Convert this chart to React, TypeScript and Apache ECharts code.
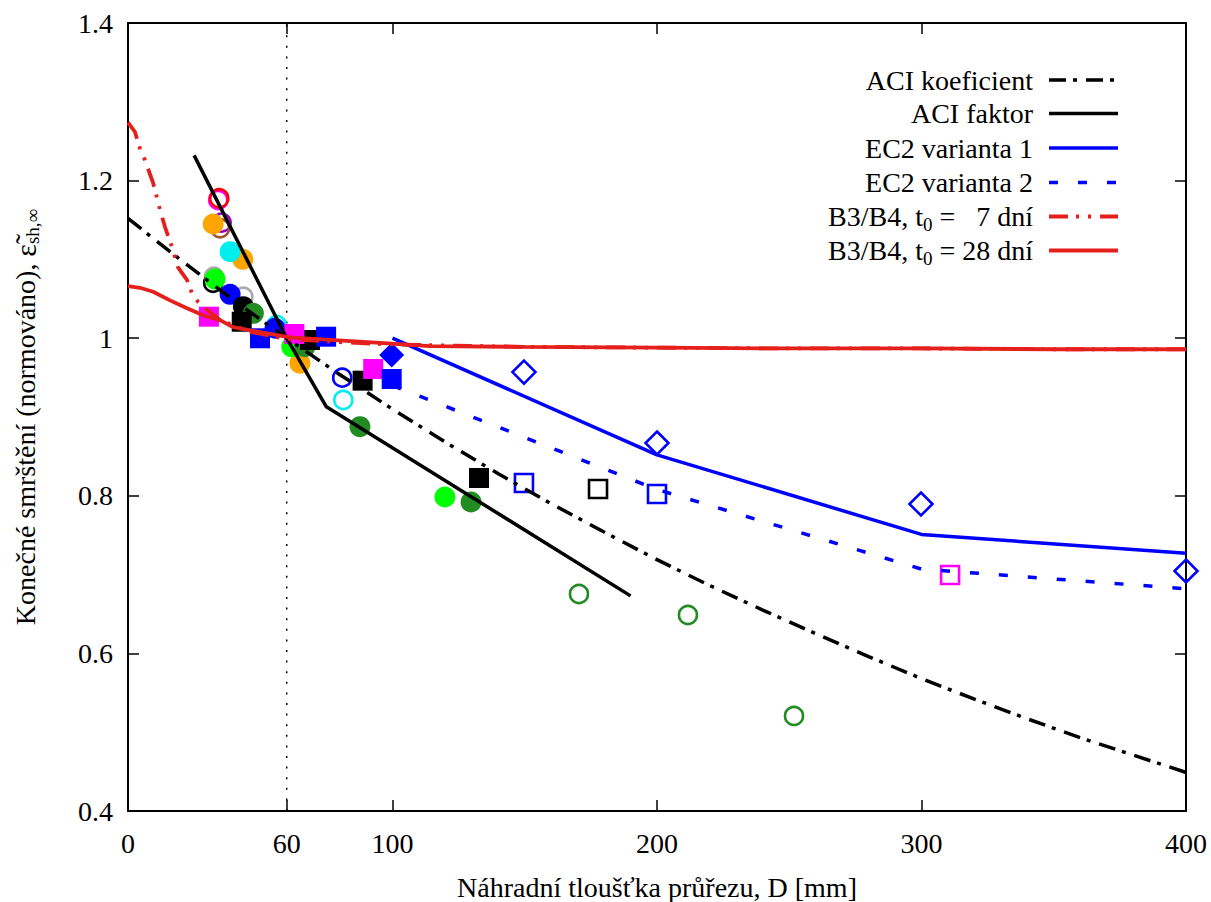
import React, { useEffect, useRef } from "react";
import * as echarts from "echarts";

// ---------- data ----------
const xTickValues = [0, 60, 100, 200, 300, 400];
const referenceD = 60;

const aciKoefD = [0, 20, 40, 60, 80, 100, 120, 140, 160, 180, 200, 220, 240, 260, 280, 300, 320, 340, 360, 380, 400];
const aciKoefVal = [1.152, 1.099, 1.048, 1.0, 0.954, 0.91, 0.868, 0.828, 0.79, 0.754, 0.719, 0.686, 0.655, 0.625, 0.596, 0.568, 0.542, 0.517, 0.493, 0.471, 0.449];

const aciFaktorD = [25, 60, 75, 190];
const aciFaktorVal = [1.232, 1.0, 0.913, 0.673];

const ec2v1D = [100, 200, 300, 400];
const ec2v1Val = [1.0, 0.852, 0.751, 0.727];

const ec2v2D = [100, 200, 300, 400];
const ec2v2Val = [0.94, 0.808, 0.707, 0.682];

const b3t7D = [0, 2.6, 4.5, 6.4, 9.5, 12.1, 14, 16.6, 18.9, 22.3, 24.2, 26.5, 29.9, 34.8, 46.1, 60, 80, 100, 150, 200, 250, 300, 350, 400];
const b3t7Val = [1.274, 1.262, 1.241, 1.226, 1.197, 1.163, 1.141, 1.116, 1.09, 1.074, 1.057, 1.046, 1.036, 1.023, 1.008, 0.999, 0.995, 0.992, 0.989, 0.988, 0.987, 0.987, 0.986, 0.986];

const b3t28D = [0, 4.5, 9.5, 15.9, 22.3, 28.4, 34.8, 39.7, 51, 61.2, 76.4, 95.3, 114, 150, 200, 250, 300, 350, 400];
const b3t28Val = [1.066, 1.064, 1.059, 1.048, 1.038, 1.029, 1.023, 1.014, 1.007, 1.001, 0.998, 0.994, 0.99, 0.989, 0.988, 0.987, 0.987, 0.986, 0.986];

// measurements [D, normalized shrinkage]
const hollowGreyCircle = [[32.5, 1.078], [43.6, 1.0527]];
const hollowBlackCircle = [[32.2, 1.0704]];
const hollowCyanCircle = [[56.2, 1.0168], [81.4, 0.9216]];
const hollowPurpleCircle = [[35.4, 1.1466]];
const hollowBrownCircle = [[34.8, 1.1395]];
const hollowMagentaCircle = [[34.1, 1.1754]];
const hollowRedCircle = [[34.5, 1.1776]];
const hollowBlueCircle = [[81.0, 0.9499]];
const hollowGreenCircle = [[170.5, 0.6754], [211.7, 0.6487], [251.8, 0.5206]];
const filledOrangeCircle = [[32.2, 1.1449], [43.4, 1.1001], [65.0, 0.9682]];
const filledCyanCircle = [[38.6, 1.1098]];
const filledLimeCircle = [[32.9, 1.075], [61.9, 0.989], [119.8, 0.7985]];
const filledBlueCircle = [[38.6, 1.0557], [55.6, 1.0126]];
const filledBlackCircle = [[43.6, 1.04]];
const filledGreenCircle = [[47.4, 1.0316], [66.9, 0.9892], [87.7, 0.8877], [129.7, 0.7921]];
const filledBlackSquare = [[43.0, 1.0209], [68.8, 0.9977], [88.7, 0.9461], [132.7, 0.8226]];
const filledMagentaSquare = [[30.6, 1.0273], [62.9, 1.0053], [92.7, 0.9609]];
const filledBlueSquare = [[49.9, 0.9999], [74.9, 1.0019], [99.7, 0.9482]];
const hollowBlueSquare = [[149.7, 0.8162], [200, 0.8023]];
const hollowBlackSquare = [[177.7, 0.8086]];
const hollowMagentaSquare = [[310.8, 0.6995]];
const filledBlueDiamond = [[99.7, 0.9787]];
const hollowBlueDiamond = [[149.7, 0.957], [200, 0.867], [299.8, 0.7896], [400, 0.7046]];

// ---------- styles ----------
const FONT = "Liberation Serif";
const FS = 28;
const RED = "#e5201c";
const BLUE = "#0000ff";
const BLACK = "#000000";
const GREEN = "#228b22";

const zip = (xs: number[], ys: number[]) => xs.map((x, i) => [x, ys[i]]);

function scatter(name: string, data: number[][], symbol: string, color: string, filled: boolean, size: number) {
  return {
    name,
    type: "scatter",
    data,
    symbol,
    symbolSize: size,
    z: 2,
    itemStyle: filled
      ? { color, borderWidth: 0, opacity: 1 }
      : { color: "rgba(0,0,0,0)", borderColor: color, borderWidth: 2.6, opacity: 1 },
    emphasis: { disabled: true },
  };
}

function lineSeries(name: string, data: number[][], color: string, width: number, dash: any) {
  return {
    name,
    type: "line",
    data,
    showSymbol: false,
    symbol: "none",
    z: 3,
    lineStyle: { color, width, type: dash, cap: "butt" },
    emphasis: { disabled: true },
  };
}

const legendRows = [
  { text: "ACI koeficient", color: BLACK, dash: [17, 7, 4, 9], width: 3.5 },
  { text: "ACI faktor", color: BLACK, dash: null, width: 3.5 },
  { text: "EC2 varianta 1", color: BLUE, dash: null, width: 3.5 },
  { text: "EC2 varianta 2", color: BLUE, dash: [9, 20], width: 3.5 },
  { text: "{a|B3/B4, t}{s|0}{a| =   7 dní}", color: RED, dash: [19, 8, 3, 9, 3, 9], width: 3.8 },
  { text: "{a|B3/B4, t}{s|0}{a| = 28 dní}", color: RED, dash: null, width: 3.8 },
];
const legendY = [80, 113.5, 148, 182.5, 216.5, 250.5];

export default function App() {
  const ref = useRef<HTMLDivElement>(null);
  useEffect(() => {
    const chart = echarts.init(ref.current!, null, { renderer: "svg" });
    const axisLineStyle = { color: BLACK, width: 2 };
    const tickStyle = { color: BLACK, width: 1.5 };
    const labelStyle = { fontSize: FS, fontFamily: FONT, color: BLACK };

    const graphic: any[] = [];
    legendRows.forEach((r, i) => {
      graphic.push({
        type: "text",
        x: 1033,
        y: legendY[i],
        z: 100,
        style: {
          text: r.text,
          fill: BLACK,
          fontSize: FS,
          fontFamily: FONT,
          align: "right",
          verticalAlign: "middle",
          textAlign: "right",
          textVerticalAlign: "middle",
          rich: {
            a: { fontSize: FS, fontFamily: FONT, fill: BLACK, color: BLACK },
            s: { fontSize: 19, fontFamily: FONT, fill: BLACK, color: BLACK, padding: [15, 0, 0, 0] },
          },
        },
      });
      graphic.push({
        type: "line",
        z: 100,
        shape: { x1: 1049, y1: legendY[i], x2: 1118, y2: legendY[i] },
        style: { stroke: r.color, lineWidth: r.width, lineDash: r.dash || undefined },
      });
    });

    chart.setOption({
      animation: false,
      backgroundColor: "#ffffff",
      grid: { left: 128, right: 25, top: 23, bottom: 91, containLabel: false, outerBoundsMode: "none" },
      xAxis: [
        {
          type: "value",
          position: "bottom",
          min: 0,
          max: 400,
          axisLine: { show: true, onZero: false, lineStyle: axisLineStyle },
          axisTick: { show: true, inside: true, length: 11, customValues: xTickValues, lineStyle: tickStyle },
          axisLabel: { ...labelStyle, margin: 18, customValues: xTickValues },
          splitLine: { show: false },
          name: "Náhradní tloušťka průřezu, D [mm]",
          nameLocation: "middle",
          nameGap: 62,
          nameTextStyle: { fontSize: FS, fontFamily: FONT, color: BLACK },
        },
        {
          type: "value",
          position: "top",
          min: 0,
          max: 400,
          axisLine: { show: true, onZero: false, lineStyle: axisLineStyle },
          axisTick: { show: true, inside: true, length: 11, customValues: xTickValues, lineStyle: tickStyle },
          axisLabel: { show: false },
          splitLine: { show: false },
        },
      ],
      yAxis: [
        {
          type: "value",
          position: "left",
          min: 0.4,
          max: 1.4,
          interval: 0.2,
          axisLine: { show: true, onZero: false, lineStyle: axisLineStyle },
          axisTick: { show: true, inside: true, length: 11, lineStyle: tickStyle },
          axisLabel: { ...labelStyle, margin: 15 },
          splitLine: { show: false },
          name: "Konečné smrštění (normováno), {e|ε\u0303}{s|sh,∞}",
          nameLocation: "middle",
          nameRotate: 90,
          nameGap: 86,
          nameTextStyle: {
            fontSize: FS,
            fontFamily: FONT,
            color: BLACK,
            rich: {
              e: { fontSize: 30, fontFamily: FONT, color: BLACK },
              s: { fontSize: 19, fontFamily: FONT, color: BLACK, padding: [15, 0, 0, 0] },
            },
          },
        },
        {
          type: "value",
          position: "right",
          min: 0.4,
          max: 1.4,
          interval: 0.2,
          axisLine: { show: true, onZero: false, lineStyle: axisLineStyle },
          axisTick: { show: true, inside: true, length: 11, lineStyle: tickStyle },
          axisLabel: { show: false },
          splitLine: { show: false },
        },
      ],
      series: [
        {
          name: "D = 60 mm",
          type: "line",
          data: [[referenceD, 0.4], [referenceD, 1.4]],
          symbol: "none",
          z: 1,
          lineStyle: { color: BLACK, width: 1.5, type: [2, 8.6] },
          emphasis: { disabled: true },
        },
        scatter("m1", hollowGreyCircle, "circle", "#a9a9a9", false, 18),
        scatter("m2", hollowBlackCircle, "circle", BLACK, false, 18),
        scatter("m3", hollowCyanCircle, "circle", "#00eeee", false, 18),
        scatter("m4", hollowPurpleCircle, "circle", "#9400d3", false, 18),
        scatter("m5", hollowBrownCircle, "circle", "#a0522d", false, 18),
        scatter("m6", hollowMagentaCircle, "circle", "#ff00ff", false, 18),
        scatter("m7", hollowRedCircle, "circle", "#ff0000", false, 18),
        scatter("m8", hollowBlueCircle, "circle", BLUE, false, 18),
        scatter("m9", hollowGreenCircle, "circle", GREEN, false, 18),
        scatter("m10", filledOrangeCircle, "circle", "#ffa500", true, 21),
        scatter("m11", filledCyanCircle, "circle", "#00eeee", true, 21),
        scatter("m12", filledLimeCircle, "circle", "#00ff00", true, 21),
        scatter("m13", filledBlueCircle, "circle", BLUE, true, 21),
        scatter("m14", filledBlackCircle, "circle", BLACK, true, 21),
        scatter("m15", filledGreenCircle, "circle", GREEN, true, 21),
        scatter("m16", filledBlackSquare, "rect", BLACK, true, 20),
        scatter("m17", filledMagentaSquare, "rect", "#ff00ff", true, 20),
        scatter("m18", filledBlueSquare, "rect", BLUE, true, 20),
        scatter("m19", hollowBlueSquare, "rect", BLUE, false, 18),
        scatter("m20", hollowBlackSquare, "rect", BLACK, false, 18),
        scatter("m21", hollowMagentaSquare, "rect", "#ff00ff", false, 18),
        scatter("m22", filledBlueDiamond, "diamond", BLUE, true, 25),
        scatter("m23", hollowBlueDiamond, "diamond", BLUE, false, 23),
        lineSeries("ACI koeficient", zip(aciKoefD, aciKoefVal), BLACK, 3.5, [17, 7, 4, 9]),
        lineSeries("ACI faktor", zip(aciFaktorD, aciFaktorVal), BLACK, 3.5, "solid"),
        lineSeries("EC2 varianta 1", zip(ec2v1D, ec2v1Val), BLUE, 3.5, "solid"),
        lineSeries("EC2 varianta 2", zip(ec2v2D, ec2v2Val), BLUE, 3.5, [9, 20]),
        lineSeries("B3/B4, t0 = 7 dní", zip(b3t7D, b3t7Val), RED, 3.8, [19, 8, 3, 9, 3, 9]),
        lineSeries("B3/B4, t0 = 28 dní", zip(b3t28D, b3t28Val), RED, 3.8, "solid"),
      ],
      graphic,
    });
    return () => chart.dispose();
  }, []);
  return (
    <div
      ref={ref}
      style={{ position: "fixed", left: 0, top: 0, width: 1211, height: 902, background: "#fff" }}
    />
  );
}
